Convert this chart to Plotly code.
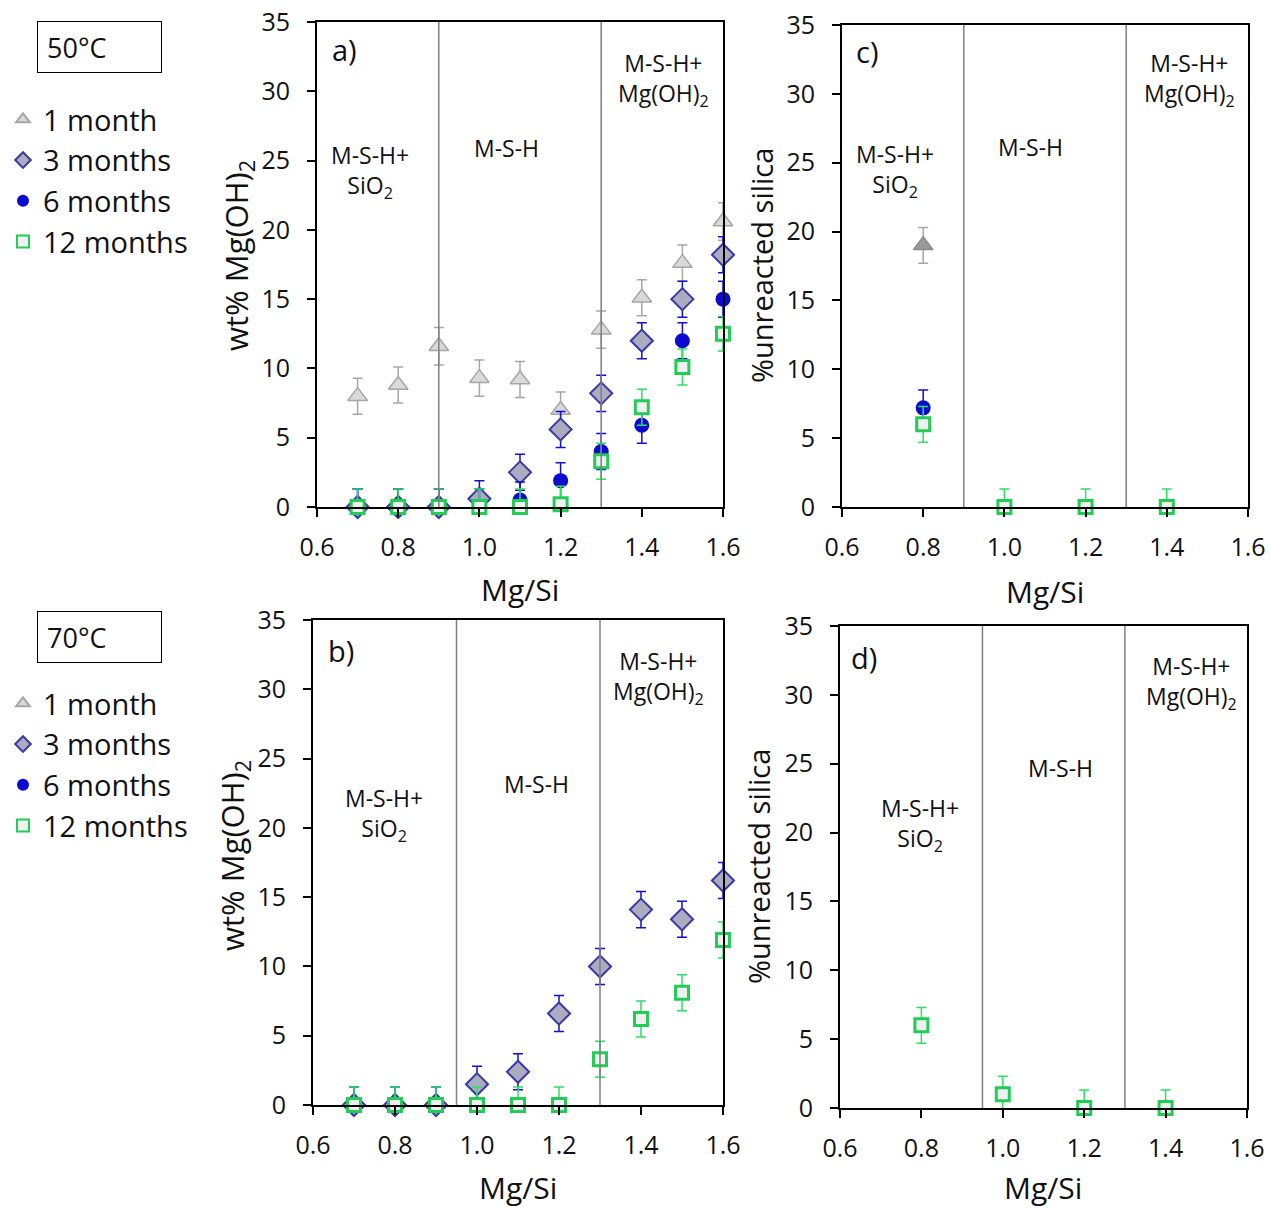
import plotly.graph_objects as go

FONT = "Open Sans"
W, H = 1270, 1209

# ---------------- data ----------------
mgsi = [0.7, 0.8, 0.9, 1.0, 1.1, 1.2, 1.3, 1.4, 1.5, 1.6]

# panel a) 50°C, wt% Mg(OH)2
a_1m = [8.0, 8.8, 11.6, 9.3, 9.2, 7.0, 12.8, 15.1, 17.6, 20.6]
a_1m_err = [1.3, 1.3, 1.35, 1.3, 1.3, 1.3, 1.35, 1.3, 1.3, 1.35]
a_3m = [0.0, 0.0, 0.0, 0.6, 2.5, 5.6, 8.2, 12.0, 15.0, 18.2]
a_3m_err = [1.3, 1.3, 1.3, 1.3, 1.3, 1.3, 1.3, 1.3, 1.3, 1.3]
a_6m = [0.0, 0.0, 0.0, 0.0, 0.5, 1.9, 4.0, 5.9, 12.0, 15.0]
a_6m_err = [1.3, 1.3, 1.3, 1.3, 1.3, 1.3, 1.3, 1.3, 1.3, 1.3]
a_12m = [0.0, 0.0, 0.0, 0.0, 0.0, 0.2, 3.3, 7.2, 10.1, 12.5]
a_12m_err = [1.3, 1.3, 1.3, 1.3, 1.3, 1.3, 1.3, 1.3, 1.3, 1.25]

# panel b) 70°C, wt% Mg(OH)2
b_3m = [0.0, 0.0, 0.0, 1.5, 2.4, 6.6, 10.0, 14.1, 13.4, 16.2]
b_3m_err = [1.3, 1.3, 1.3, 1.3, 1.3, 1.3, 1.3, 1.3, 1.3, 1.3]
b_12m = [0.0, 0.0, 0.0, 0.0, 0.0, 0.0, 3.3, 6.2, 8.1, 11.9]
b_12m_err = [1.3, 1.3, 1.3, 1.3, 1.3, 1.3, 1.3, 1.3, 1.3, 1.3]

# panel c) 50°C, % unreacted silica
c_x_1m = [0.8]
c_1m = [19.0]
c_1m_err = [1.3]
c_x_6m = [0.8]
c_6m = [7.2]
c_6m_err = [1.3]
c_x_12m = [0.8, 1.0, 1.2, 1.4]
c_12m = [6.0, 0.0, 0.0, 0.0]
c_12m_err = [1.3, 1.3, 1.3, 1.3]

# panel d) 70°C, % unreacted silica
d_x_12m = [0.8, 1.0, 1.2, 1.4]
d_12m = [6.0, 1.0, 0.0, 0.0]
d_12m_err = [1.3, 1.3, 1.3, 1.3]

series_names = ["1 month", "3 months", "6 months", "12 months"]
x_ticks = [0.6, 0.8, 1.0, 1.2, 1.4, 1.6]
y_ticks = [0, 5, 10, 15, 20, 25, 30, 35]

# phase boundaries (Mg/Si)
bounds_50 = [0.9, 1.3]
bounds_70 = [0.95, 1.3]

# ---------------- styles ----------------
STY = {
    "1 month": dict(symbol="triangle-up", size=17, color="#d9d9d9",
                    line=dict(color="#a6a6a6", width=1.5), err="#a6a6a6"),
    "3 months": dict(symbol="diamond", size=17, color="#acacc0",
                     line=dict(color="#3838a6", width=2), err="#1010d0"),
    "6 months": dict(symbol="circle", size=15, color="#0a0ad0",
                     line=dict(color="#0a0ad0", width=0), err="#1010d0"),
    "12 months": dict(symbol="square", size=13, color="#f0f0f0",
                      line=dict(color="#22cc55", width=3), err="#2ee060"),
}
C_1M_DARK = dict(symbol="triangle-up", size=17, color="#999999",
                 line=dict(color="#8c8c8c", width=1.5), err="#a6a6a6")


def trace(x, y, err, name, xa, ya, legend=None, style=None):
    s = style or STY[name]
    return go.Scatter(
        x=x, y=y, mode="markers", name=name,
        xaxis=xa, yaxis=ya, cliponaxis=False,
        marker=dict(symbol=s["symbol"], size=s["size"], color=s["color"], line=s["line"]),
        error_y=dict(type="data", array=err, visible=True, color=s["err"],
                     thickness=1.5, width=5),
        showlegend=legend is not None, legend=legend or "legend",
        legendgroup=(legend or "") + name,
    )


fig = go.Figure()

# panel a
fig.add_trace(trace(mgsi, a_1m, a_1m_err, "1 month", "x", "y", "legend"))
fig.add_trace(trace(mgsi, a_3m, a_3m_err, "3 months", "x", "y", "legend"))
fig.add_trace(trace(mgsi, a_6m, a_6m_err, "6 months", "x", "y", "legend"))
fig.add_trace(trace(mgsi, a_12m, a_12m_err, "12 months", "x", "y", "legend"))

# panel b (legend entries for all four ages)
fig.add_trace(trace([None], [None], None, "1 month", "x3", "y3", "legend2"))
fig.add_trace(trace(mgsi, b_3m, b_3m_err, "3 months", "x3", "y3", "legend2"))
fig.add_trace(trace([None], [None], None, "6 months", "x3", "y3", "legend2"))
fig.add_trace(trace(mgsi, b_12m, b_12m_err, "12 months", "x3", "y3", "legend2"))

# panel c
fig.add_trace(trace(c_x_1m, c_1m, c_1m_err, "1 month", "x2", "y2", style=C_1M_DARK))
fig.add_trace(trace(c_x_6m, c_6m, c_6m_err, "6 months", "x2", "y2"))
fig.add_trace(trace(c_x_12m, c_12m, c_12m_err, "12 months", "x2", "y2"))

# panel d
fig.add_trace(trace(d_x_12m, d_12m, d_12m_err, "12 months", "x4", "y4"))


def px_x(p):
    return p / W


def px_y(p):
    return 1 - p / H


domains = {
    "": ((317, 723), (22, 507)),
    "2": ((842, 1248), (25, 507)),
    "3": ((313, 723), (620, 1105)),
    "4": ((840, 1247), (626, 1108)),
}

axis_common = dict(showline=True, linecolor="black", linewidth=2, mirror=True,
                   ticks="outside", ticklen=8, tickwidth=1.5, tickcolor="black",
                   showgrid=False, zeroline=False, automargin=False,
                   tickfont=dict(family=FONT, size=25, color="#111"))
layout = {}
for k, ((x0, x1), (y0, y1)) in domains.items():
    layout["xaxis" + k] = dict(axis_common, domain=[px_x(x0), px_x(x1)], range=[0.6, 1.6],
                               tickvals=x_ticks, tickformat=".1f", anchor="y" + k,
                               ticklabelstandoff=9)
    layout["yaxis" + k] = dict(axis_common, domain=[px_y(y1), px_y(y0)], range=[0, 35],
                               tickvals=y_ticks, anchor="x" + k, ticklabelstandoff=12)
fig.update_layout(**layout)

# phase boundary lines
shapes = []
for k, bnds in (("", bounds_50), ("2", bounds_50), ("3", bounds_70), ("4", bounds_70)):
    for b in bnds:
        shapes.append(dict(type="line", xref="x" + k, yref=("y" + k) + " domain",
                           x0=b, x1=b, y0=0, y1=1,
                           line=dict(color="#7f7f7f", width=1.5)))
fig.update_layout(shapes=shapes)

ann = []


def text(x, y, s, size=22, **kw):
    ann.append(dict(x=px_x(x), y=px_y(y), xref="paper", yref="paper", text=s,
                    xanchor="center", yanchor="middle",
                    showarrow=False, font=dict(family=FONT, size=size, color="#111"), **kw))


SIO2 = "M-S-H+<br>SiO<sub>2</sub>"
MSH = "M-S-H"
MGOH = "M-S-H+<br>Mg(OH)<sub>2</sub>"
RS = 23

# panel a
text(344, 50, "a)", 29)
text(370, 171, SIO2, RS)
text(506, 148, MSH, RS)
text(663, 80, MGOH, RS)
# panel c
text(867, 52, "c)", 29)
text(895, 170, SIO2, RS)
text(1030, 147, MSH, RS)
text(1189, 79, MGOH, RS)
# panel b
text(341, 650, "b)", 29)
text(384, 814, SIO2, RS)
text(536, 784, MSH, RS)
text(658, 677, MGOH, RS)
# panel d
text(864, 657, "d)", 29)
text(920, 824, SIO2, RS)
text(1060, 768, MSH, RS)
text(1191, 682, MGOH, RS)

# axis titles
for (x, y) in ((520, 590), (1045, 591), (518, 1187), (1043, 1187)):
    text(x, y, "Mg/Si", 30)
text(238, 256, "wt% Mg(OH)<sub>2</sub>", 31, textangle=-90)
text(234, 856, "wt% Mg(OH)<sub>2</sub>", 31, textangle=-90)
text(762, 266, "%unreacted silica", 29, textangle=-90)
text(758, 867, "%unreacted silica", 29, textangle=-90)

# temperature boxes
for (y, s) in ((47, "50°C"), (637, "70°C")):
    ann.append(dict(x=px_x(99.5), y=px_y(y), xref="paper", yref="paper", text=s,
                    xanchor="center", yanchor="middle",
                    showarrow=False, width=105, height=32, align="left",
                    bordercolor="black", borderwidth=1, borderpad=9,
                    font=dict(family=FONT, size=27, color="#111")))
fig.update_layout(annotations=ann)

leg_common = dict(font=dict(family=FONT, size=29, color="#111"), itemsizing="constant",
                  bgcolor="rgba(0,0,0,0)", borderwidth=0, tracegroupgap=1,
                  xanchor="left", yanchor="top", traceorder="normal")
fig.update_layout(
    legend=dict(leg_common, x=px_x(3), y=px_y(94)),
    legend2=dict(leg_common, x=px_x(3), y=px_y(678)),
    width=W, height=H, margin=dict(l=0, r=0, t=0, b=0, autoexpand=False),
    paper_bgcolor="white", plot_bgcolor="white",
)

fig.write_html("out.html", config={"displayModeBar": False},
               post_script="document.body.style.margin='0px';")
